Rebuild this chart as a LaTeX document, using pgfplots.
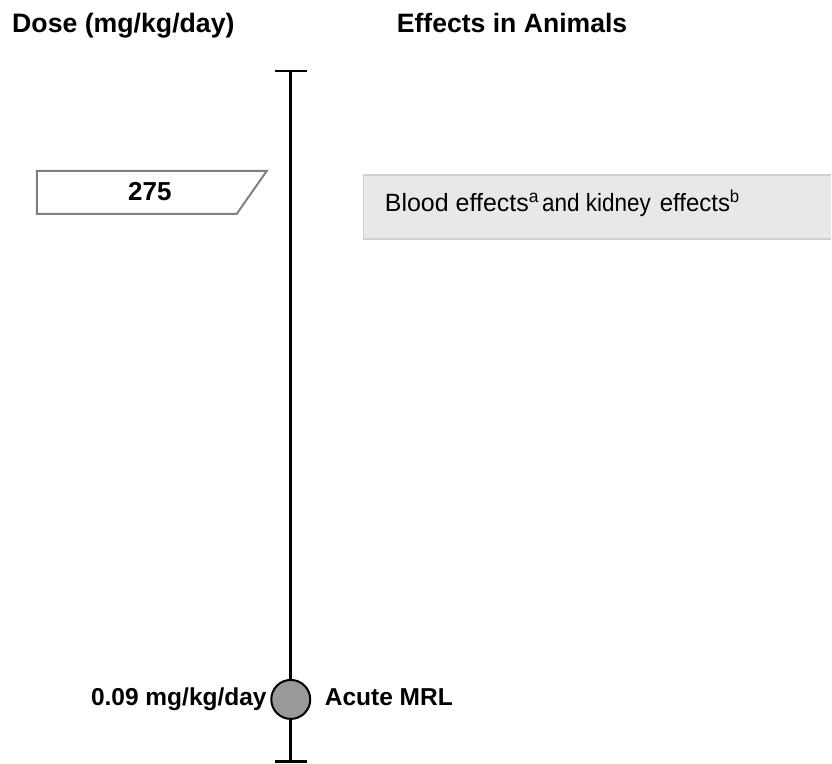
\documentclass[border=0pt]{standalone}
\usepackage{pgfplots}
\pgfplotsset{compat=1.18}
\usepackage{fontspec}
\setmainfont{Liberation Sans}
\definecolor{boxfill}{HTML}{E8E8E8}
\definecolor{boxedge}{HTML}{D0D0D0}
\definecolor{markfill}{HTML}{999999}
\definecolor{tagedge}{HTML}{808080}
\begin{document}
\begin{tikzpicture}
\begin{axis}[
    scale only axis,
    width=832pt, height=764pt,
    xmin=0, xmax=832, ymin=0, ymax=764,
    y dir=reverse,
    hide axis,
    clip=false,
]
    % frame of the page
    \addplot[draw=none] coordinates {(0,0) (832,764)};

    % dose scale
    \addplot[black, line width=2.6pt] coordinates {(291,71) (291,762)};
    \addplot[black, line width=2.6pt] coordinates {(275,71) (307,71)};
    \addplot[black, line width=2.6pt] coordinates {(275,762) (307,762)};

    % effect box
    \addplot[draw=none, fill=boxfill] coordinates {(364,175) (832,175) (832,239) (364,239)} --cycle;
    \addplot[boxedge, line width=1.4pt] coordinates {(832,175) (364,175) (364,239) (832,239)};

    % dose tag 275
    \addplot[tagedge, fill=white, line width=2pt] coordinates {(37,171) (267,171) (237,214) (37,214)} --cycle;

    % acute MRL
    \addplot[only marks, mark=*, mark size=19.5pt, mark options={fill=markfill, draw=black, line width=2pt}] coordinates {(291,700)};

    \node[anchor=base west, inner sep=0, font=\bfseries\fontsize{26.7}{30}\selectfont] at (axis cs:12,33) {Dose (mg/kg/day)};
    \node[anchor=base west, inner sep=0, font=\bfseries\fontsize{26.6}{30}\selectfont] at (axis cs:397,33) {Effects in Animals};
    \node[anchor=base, inner sep=0, font=\bfseries\fontsize{26}{30}\selectfont] at (axis cs:150,201) {275};
    \node[anchor=base west, inner sep=0, font=\fontsize{25}{30}\selectfont] at (axis cs:385,212)
        {Blood effects\textsuperscript{a}\hspace{3pt}\scalebox{0.9}[1]{and kidney}\hspace{9pt}\scalebox{0.96}[1]{effects\textsuperscript{b}}};
    \node[anchor=base east, inner sep=0, font=\bfseries\fontsize{24.5}{30}\selectfont] at (axis cs:267,706) {0.09 mg/kg/day};
    \node[anchor=base west, inner sep=0, font=\bfseries\fontsize{24.5}{30}\selectfont] at (axis cs:325,706) {Acute MRL};
\end{axis}
\end{tikzpicture}
\end{document}
